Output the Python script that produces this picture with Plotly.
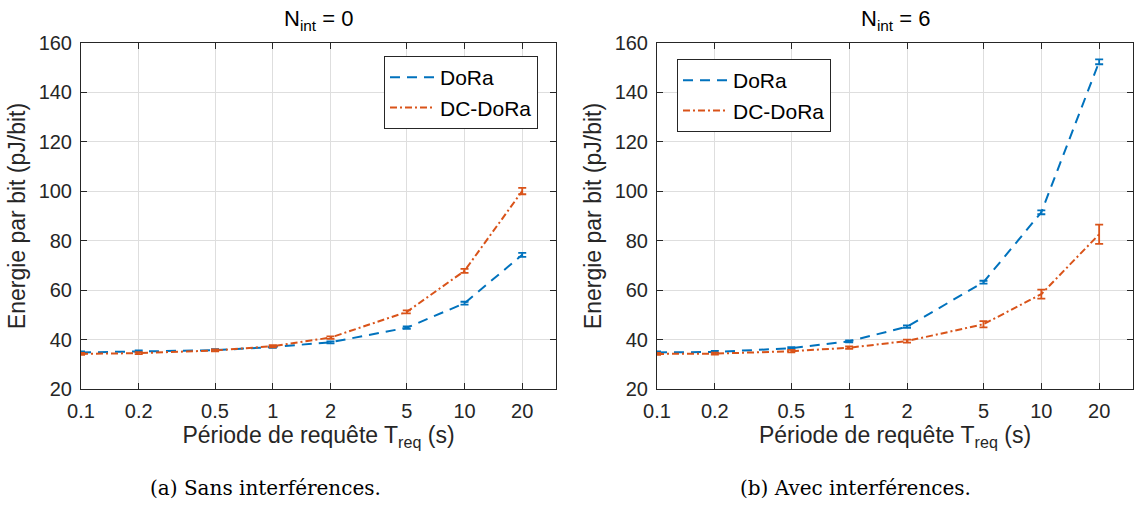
import math
import plotly.graph_objects as go

periods = [0.1, 0.2, 0.5, 1, 2, 5, 10, 20]
x_ticks = [0.1, 0.2, 0.5, 1, 2, 5, 10, 20]
x_tick_labels = ["0.1", "0.2", "0.5", "1", "2", "5", "10", "20"]
y_ticks = [20, 40, 60, 80, 100, 120, 140, 160]

# Panel (a): N_int = 0
dora_a = [34.8, 35.2, 35.7, 37.0, 38.9, 44.8, 54.7, 74.3]
dora_a_err = [0.4, 0.4, 0.4, 0.4, 0.4, 0.5, 0.6, 0.8]
dcdora_a = [34.2, 34.5, 35.6, 37.3, 40.8, 51.2, 67.8, 100.1]
dcdora_a_err = [0.4, 0.4, 0.4, 0.4, 0.5, 0.6, 0.8, 1.3]

# Panel (b): N_int = 6
dora_b = [34.8, 35.0, 36.5, 39.3, 45.2, 63.2, 91.5, 152.4]
dora_b_err = [0.4, 0.4, 0.4, 0.4, 0.5, 0.6, 0.8, 1.0]
dcdora_b = [34.2, 34.3, 35.3, 36.7, 39.4, 46.2, 58.4, 82.6]
dcdora_b_err = [0.4, 0.4, 0.5, 0.5, 0.6, 1.3, 1.8, 3.9]

BLUE = "#0072BD"
ORANGE = "#D95319"
AX = "#262626"
GRID = "#dedede"
FONT = "Liberation Sans"
DASH = "10px,7px"
DASHDOT = "7px,3px,2px,3px"

W, H = 1134, 509
def px_x(p):
    return p / W
def px_y(p):
    return (H - p) / H

fig = go.Figure()

def add(xa, ya, y, err, name, color, dash, legend):
    fig.add_trace(go.Scatter(
        x=periods, y=y, name=name, mode="lines",
        line=dict(color=color, width=2, dash=dash),
        error_y=dict(type="data", array=err, visible=True, color=color,
                     thickness=1.8, width=4),
        xaxis=xa, yaxis=ya, legend=legend,
    ))

add("x", "y", dora_a, dora_a_err, "DoRa", BLUE, DASH, "legend")
add("x", "y", dcdora_a, dcdora_a_err, "DC-DoRa", ORANGE, DASHDOT, "legend")
add("x2", "y2", dora_b, dora_b_err, "DoRa", BLUE, DASH, "legend2")
add("x2", "y2", dcdora_b, dcdora_b_err, "DC-DoRa", ORANGE, DASHDOT, "legend2")

xrange_log = [math.log10(0.1), math.log10(30)]

def xaxis(domain, anchor):
    return dict(
        type="log", domain=domain, anchor=anchor, range=xrange_log,
        tickvals=x_ticks, ticktext=x_tick_labels,
        showgrid=True, gridcolor=GRID, gridwidth=1,
        showline=True, linecolor=AX, linewidth=1, mirror="ticks",
        ticks="inside", ticklen=6, tickcolor=AX,
        tickfont=dict(family=FONT, size=20, color=AX),
        ticklabelstandoff=4,
        title=dict(text="Période de requête T<sub>req</sub> (s)",
                   font=dict(family=FONT, size=23, color=AX), standoff=4),
        zeroline=False, automargin=False,
    )

def yaxis(domain, anchor):
    return dict(
        domain=domain, anchor=anchor, range=[20, 160],
        tickvals=y_ticks,
        showgrid=True, gridcolor=GRID, gridwidth=1,
        showline=True, linecolor=AX, linewidth=1, mirror="ticks",
        ticks="inside", ticklen=6, tickcolor=AX,
        tickfont=dict(family=FONT, size=20, color=AX),
        ticklabelstandoff=4,
        title=dict(text="Energie par bit (pJ/bit)",
                   font=dict(family=FONT, size=23, color=AX), standoff=6),
        zeroline=False, automargin=False,
    )

ydom = [px_y(389), px_y(43)]
fig.update_layout(
    width=W, height=H,
    margin=dict(l=0, r=0, t=0, b=0),
    paper_bgcolor="white", plot_bgcolor="white",
    xaxis=xaxis([px_x(81), px_x(556)], "y"),
    yaxis=yaxis(ydom, "x"),
    xaxis2=xaxis([px_x(657), px_x(1133)], "y2"),
    yaxis2=yaxis(ydom, "x2"),
    legend=dict(x=px_x(384), y=px_y(56), xanchor="left", yanchor="top",
                bgcolor="white", bordercolor=AX, borderwidth=1,
                font=dict(family=FONT, size=21, color="black"),
                tracegroupgap=0, itemwidth=45),
    legend2=dict(x=px_x(677), y=px_y(59), xanchor="left", yanchor="top",
                 bgcolor="white", bordercolor=AX, borderwidth=1,
                 font=dict(family=FONT, size=21, color="black"),
                 tracegroupgap=0, itemwidth=45),
    showlegend=True,
)

annotations = [
    dict(text="N<sub>int</sub> = 0", x=px_x(318), y=px_y(20), xref="paper", yref="paper",
         showarrow=False, font=dict(family=FONT, size=22, color="black"), xanchor="center", yanchor="middle"),
    dict(text="N<sub>int</sub> = 6", x=px_x(895), y=px_y(20), xref="paper", yref="paper",
         showarrow=False, font=dict(family=FONT, size=22, color="black"), xanchor="center", yanchor="middle"),
    dict(text="(a) Sans interférences.", x=px_x(265), y=px_y(488), xref="paper", yref="paper",
         showarrow=False, font=dict(family="DejaVu Serif", size=20, color="black"), xanchor="center", yanchor="middle"),
    dict(text="(b) Avec interférences.", x=px_x(855), y=px_y(488), xref="paper", yref="paper",
         showarrow=False, font=dict(family="DejaVu Serif", size=20, color="black"), xanchor="center", yanchor="middle"),
]
fig.update_layout(annotations=annotations)

fig.write_html("out.html", config={"displayModeBar": False},
               post_script="document.body.style.margin='0';document.body.style.overflow='hidden';")
